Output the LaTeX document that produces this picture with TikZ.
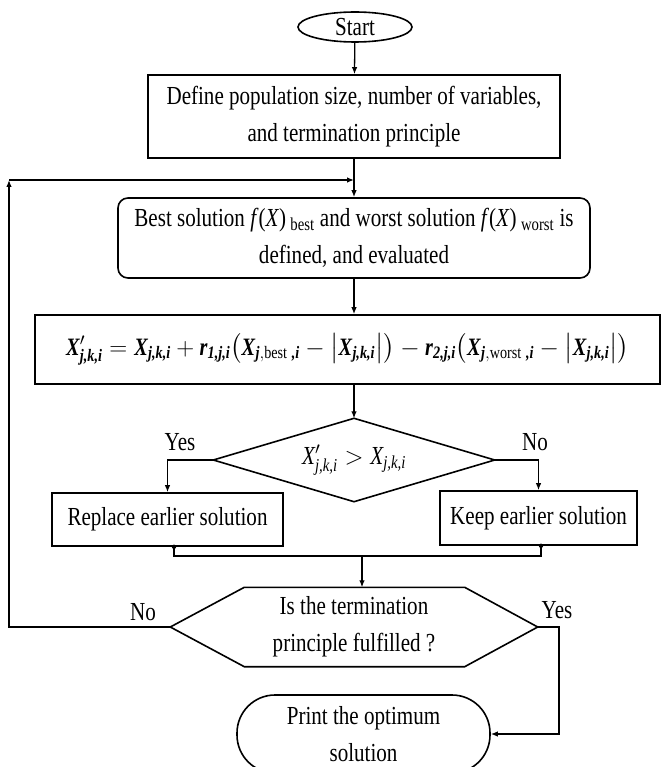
\documentclass[tikz,border=0pt]{standalone}
\usepackage{amsmath}
\usepackage{fontspec}
\setmainfont{Liberation Serif}[FakeStretch=0.81]
\usetikzlibrary{shapes.geometric,arrows.meta}
\newcommand\bX{\textbf{\textit{X}}}
\newcommand\bs[1]{\textbf{\textit{#1}}}
\newcommand\iX{\textit{X}}
\begin{document}
\begin{tikzpicture}[x=1pt,y=-1pt,
  txt/.style={font=\fontsize{26}{37}\selectfont, align=center, inner sep=0pt},
  box/.style={txt, draw, line width=1.6pt},
  conn/.style={line width=1.3pt},
  arr/.style={conn, -{Latex[length=7pt,width=5.5pt]}},
]
\useasboundingbox (0,0) rectangle (666,767);
\fill[white] (0,0) rectangle (666,767);
\clip (0,0) rectangle (666,767);

\node[box, ellipse, minimum width=114pt, minimum height=30pt, text height=17pt, text depth=0pt] (start) at (355,27) {Start};
\node[box, minimum width=412pt, minimum height=83pt] (def) at (354,116.5) {Define population size, number of variables,\\ and termination principle};
\node[box, rounded corners=10pt, minimum width=472pt, minimum height=80pt] (best) at (354,238) {Best solution \textit{f}(\textit{X})\,\textsubscript{best} and worst solution \textit{f}(\textit{X})\,\textsubscript{worst} is\\ defined, and evaluated};
\node[box, minimum width=625pt, minimum height=69pt, font=\fontsize{25}{30}\selectfont] (form) at (347.5,349.5)
 {$\bX'_{\bs{j,k,i}} = \bX_{\bs{j,k,i}} + \bs{r}_{\bs{1,j,i}}\bigl(\bX_{\bs{j},\text{best}\;\bs{,i}} - \bigl|\bX_{\bs{j,k,i}}\bigr|\bigr) - \bs{r}_{\bs{2,j,i}}\bigl(\bX_{\bs{j},\text{worst}\;\bs{,i}} - \bigl|\bX_{\bs{j,k,i}}\bigr|\bigr)$};

\node[txt, minimum width=281pt, minimum height=83pt] (dia) at (354,460) {$\iX'_{\textit{j,k,i}} > \iX_{\textit{j,k,i}}$};
\draw[line width=1.6pt] (dia.north) -- (dia.east) -- (dia.south) -- (dia.west) -- cycle;

\node[box, minimum width=231pt, minimum height=53pt] (rep) at (167.5,519.5) {Replace earlier solution};
\node[box, minimum width=197pt, minimum height=54pt] (keep) at (538.5,518) {Keep earlier solution};

\node[txt, minimum width=367pt, minimum height=79pt] (hex) at (354,627) {Is the termination\\ principle fulfilled ?};
\draw[line width=1.6pt] (hex.west) -- ([xshift=74pt]hex.north west) -- ([xshift=-73pt]hex.north east) -- (hex.east) -- ([xshift=-73pt]hex.south east) -- ([xshift=74pt]hex.south west) -- cycle;

\node[box, rounded corners=38pt, minimum width=253pt, minimum height=78pt] (print) at (363.5,734) {Print the optimum\\ solution};

\node[txt] (yes1) at (180,442) {Yes};
\node[txt] (no1) at (535,442) {No};
\node[txt] (no2) at (143,612) {No};
\node[txt] (yes2) at (557,610) {Yes};

\draw[arr] (start) -- (def);
\draw[arr] (def.south) -- (best.north);
\draw[arr] (best.south) -- (best.south |- form.north);
\draw[arr] (dia.north |- form.south) -- (dia.north);
\draw[arr] (dia.west) -| (rep.north);
\draw[arr] (dia.east) -| (keep.north);

\coordinate (jl) at (174,556);
\coordinate (jr) at (541,556);
\coordinate (jm) at (362,556);
\draw[conn] (rep.south -| jl) -- (jl) -- (jr) -- (keep.south -| jr);
\fill (rep.south -| jl) circle (2.2pt);
\fill (keep.south -| jr) circle (2.2pt);
\draw[arr] (jm) -- (jm |- hex.north);

\coordinate (lc) at (9,180);
\draw[arr] (hex.west) -| (lc);
\draw[arr] (lc) -- (lc -| def.south);

\coordinate (rc) at (559,627);
\draw[arr] (hex.east) -- (rc) |- (print.east);
\end{tikzpicture}
\end{document}
